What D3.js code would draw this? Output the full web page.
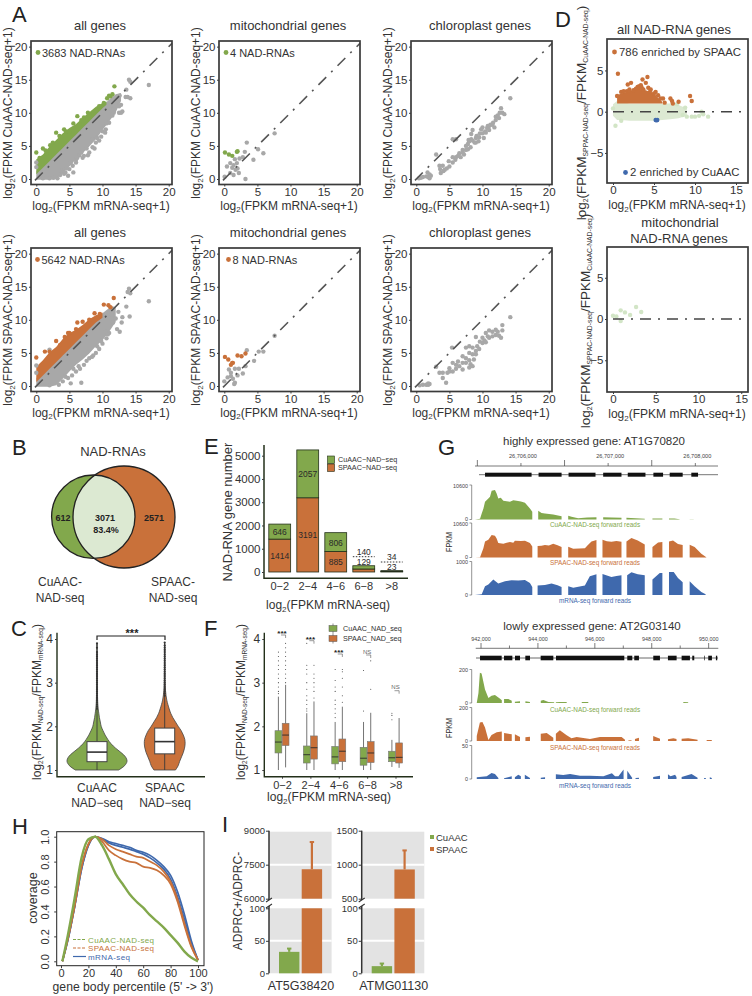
<!DOCTYPE html>
<html>
<head>
<meta charset="utf-8">
<script src="https://cdn.jsdelivr.net/npm/d3@7"></script>
<style>
body { margin: 0; background: #fff; }
text { font-family: "Liberation Sans", Arial, sans-serif; fill: #333; }
</style>
</head>
<body>
<script>
// --> COLORS
var green = '#82a84c', orange = '#c9713a', blue = '#3f69ad', paleGreen = '#dce9d2', paleDot = '#d2e5c6', grey = '#a8a8a8', ink = '#3a3a3a';

// --> PANEL A, DENSE CLOUDS AS [x, low, high]
var cuGreyCloud = [[0,-0.1,1.2],[1,-0.1,2],[2,-0.1,3],[3,0,4],[4,0.9,5],[5,1.9,6],[6,3,7],[7,3.9,8],[8,4.9,9],[9,6,10],[10,7.4,11],[11,8.7,12],[12,10.1,12.8],[12.8,11.8,13]];
var cuGreenCloud = [[0,0.7,3],[1,1.7,3.7],[2,2.7,4.9],[3,3.7,5.9],[4,4.7,6.9],[5,5.7,7.7],[6,6.7,8.3],[7,7.7,9.2],[8,8.7,10.1],[9,9.7,10.9],[10,10.7,11.5],[10.6,11.2,11.7]];
var spGreyCloud = [[0,-0.1,1.2],[1,-0.1,2],[2,-0.1,3],[3,0.1,4],[4,1.1,5],[5,2.2,6],[6,3.2,7],[7,4,8],[8,4.9,9],[9,6,10],[10,6.9,11],[11,8.2,11.8],[12,9.7,12]];
var spOrangeCloud = [[0,0.6,2.9],[1,1.6,3.9],[2,2.6,5.1],[3,3.6,5.9],[4,4.6,7.1],[5,5.6,8],[6,6.6,8.5],[7,7.6,9.2],[8,8.6,10.1],[9,9.6,10.7],[10,10.3,11.1]];

// --> PANEL A, SINGLE POINTS [x, y]
var cuAllGrey = [[14,15],[13.6,13.5],[14.2,14.7],[17,14.2],[13.8,12.4],[14.2,12.2],[13.5,12.4],[12.5,10],[12.8,10],[13,10.2],[12.5,11],[12.8,11.2],[11.7,10],[12,11.6],[11.5,9.6],[11,8.5],[10.5,7.5],[10,7.2],[9.5,5.8],[9,5.5],[8.5,4.8],[8,4],[7.2,3.5],[6.5,3.6],[6,2.5],[5.5,2],[5,1.5],[5.6,1],[3.2,0.1],[4.2,0.8],[4.8,0.5],[1,0.1],[2,0.1],[0,1.8],[0,2.5],[6,2.9],[8.5,6],[7.6,4.6],[9.2,6.2],[10.6,8.4],[3.6,0.6],[4.4,1],[6.8,4],[11.6,10.6],[12.3,12.2],[12.6,12.6],[7,3.2],[7.8,3.6],[8.8,4.6],[9.8,6.4],[10.4,7],[4.6,1.6],[5.2,2.4],[3.8,1.2],[2.6,0.2],[6.2,3.2]];
var cuAllGreen = [[0,4],[0.5,3.2],[1,4.6],[1.5,3.8],[2.1,5.1],[3,7],[3.5,6.5],[4.2,7.5],[4.5,7.2],[5,7.2],[6.2,9.5],[7.2,9.3],[7.8,10],[8,9.6],[9,10.4],[10.7,12.2],[11,12.6],[11.2,12.5],[11.8,14],[11.5,12.8],[2.5,5.5],[1.4,4.3],[6.8,8.9],[5.6,8.4],[9.5,11],[10.2,11.5]];
var cuMitoGrey = [[3.4,5.5],[3.1,4.1],[2.3,3.1],[2.8,3.3],[1.6,3],[0.9,2.4],[0.4,1.9],[1.2,1.7],[1.7,1.4],[2,1.6],[2.2,0.9],[1.4,0.6],[0.05,0.35],[3.2,0],[5.1,4.5],[5.9,3.9],[4.4,2.9],[7.6,6.9],[0.9,0.9],[1.4,2.1],[1.9,2.4]];
var cuMitoGreen = [[0.1,4],[0.7,3.7],[1.2,3.5],[2,4.2],[1.9,4.1]];
var cuChloro = [[0.4,0.1],[0.7,0.2],[1,0.3],[1.5,0.4],[1.7,1],[1.8,0.3],[2,0.7],[2,0.1],[2.2,0.5],[3,3.7],[3.5,2],[3.6,1.5],[3.7,0.9],[4,2],[4.1,1.2],[4.3,1.4],[4.6,1.6],[4.9,2.7],[5,1.9],[5.5,3.3],[5.5,2.5],[5.9,2.9],[6,3.3],[6.3,3.5],[6.5,3.9],[6.7,3.3],[7,4],[7,4.4],[7.2,3.7],[7.5,4.4],[7.5,5],[7.8,5.3],[7.8,4.5],[5.5,6],[6,6],[8,5.7],[8.2,4.8],[8.3,6],[8.5,5.8],[8.8,5.5],[9,5.5],[9,6.2],[9.1,6.5],[9.4,5.7],[9.5,6.3],[9.6,6.9],[9.8,7.5],[10,6.9],[10,7.8],[10.2,6.2],[10.4,7.2],[10.5,7],[10.7,7.7],[10.8,8],[11,7.4],[11,8],[11.2,8.2],[11.5,8.2],[11.6,8.5],[11.8,7.8],[12,8.9],[12,9.4],[12.3,9.6],[12.5,9.2],[12.6,10],[12.8,10.7],[13,10],[13.3,9.8],[14.2,12.2],[8.5,7.4],[8.3,6.8],[7.9,5.9]];
var spAllGrey = [[14,14.7],[13.8,14.2],[14.2,14],[17,12.8],[14.1,10.5],[13.6,12],[12.9,9.6],[12,10.2],[12.2,8.6],[12.6,8.2],[6.8,0.5],[11.6,9.6],[11,8],[10.6,7.2],[10,6.4],[9.5,5.6],[9,5],[8.6,4.6],[8,4.2],[7.2,3.2],[6.6,2.6],[6,2.2],[5.4,1.6],[4.8,1.2],[4,0.7],[3.4,0.2],[5.2,0.4],[2,0.1],[0,3.1],[0,2],[2,5.5],[12.4,11.2],[11.5,11.7],[11,11],[11.4,10.8],[9.2,6],[10.4,8.2],[13,10.4],[7.6,3.8],[8.4,4.4],[6.4,3],[5.6,2.6],[4.4,1.4],[9.8,6.8],[10.8,7.8]];
var spAllOrange = [[0,4.3],[1.3,5.2],[3,6.8],[4.3,7.4],[6.2,9.6],[7,9.7],[8.8,11],[9.6,10.9],[10.2,12.3],[10.9,12.2],[11.7,13.3],[5,8],[2,5.2],[4.8,8],[6,8.6],[8,10],[11.2,11.9],[3.6,6.2]];
var spMitoGrey = [[3.4,5.4],[3.2,3],[2.2,2.6],[1.6,2.6],[0.7,2.5],[1,2],[0.5,1.3],[1,1.5],[1.3,1.1],[2,1.6],[0,0.7],[1.5,0.3],[1.6,0.5],[5.2,5.2],[5.9,5.2],[4.5,3.8],[7.6,7.6],[2.8,1.9]];
var spMitoOrange = [[0.1,4.4],[0.6,4],[1,3.2],[1.2,3.5],[2,4.6],[2.6,4.5],[3.2,4.9],[1.3,3.5]];
var spChloro = [[0.5,0.1],[1,0.2],[1.5,0.2],[1.8,0.2],[2,0.3],[1.8,0.4],[3,2.9],[3.5,2],[4,2],[4,1.2],[4.5,0.5],[4.7,2],[5,2.2],[5,2.7],[5.5,3.5],[5.5,2.2],[6,2.6],[6,3.2],[6.3,3.7],[6.5,3],[7,2.5],[7,3.5],[7,4.5],[7.5,3.5],[7.5,4.2],[7.5,5.8],[5.4,5.8],[8,2.8],[8,3.9],[8,5],[8,6],[8.2,3.3],[8.5,3],[8.5,4.8],[8.5,5.8],[8.7,4],[9,4.8],[9,5.3],[9,7.4],[9.2,6],[9.5,5.6],[9.6,6.7],[10,7.3],[10,6.5],[10.3,6.9],[10.5,8],[10.5,6.6],[10.8,7.5],[11,8.4],[11,7.3],[11.5,8.2],[11.5,7.5],[12,8.5],[12,7.7],[12.3,8.2],[12.5,7.6],[13,8.4],[13,9.2],[12.8,7.3],[14.2,10.4]];

// --> PANEL D
var dPaleCloud = [[0,-0.5,0.9],[0.5,-1,1.3],[1,-1,1.2],[2,-1.1,1],[3,-1.1,1],[4,-1.1,1],[5,-1.1,1],[6,-1,1],[7,-0.9,1],[8,-0.8,0.8],[9,-0.5,0.4]];
var dOrangeCloud = [[0.5,1,2],[1,1,2.2],[2,1,2.5],[3,1,2.8],[4,1,2.6],[5,1,2.2],[5.5,1,1.7],[6,1,1.2]];
var dAllOrange = [[0.6,4.6],[1.8,3.3],[2.2,3.5],[2.5,2.6],[3,3],[3.2,3.1],[3.5,2.9],[3.6,3.9],[3.2,2.9],[3.7,2.7],[4,3.5],[4.2,4.2],[4.3,2.9],[4.5,2.4],[5,2.2],[5.5,2],[6.1,1.6],[6.3,1.1],[7,1.6],[7.2,1.3],[7.3,1],[8,1.2],[9.4,1.9],[9.6,1.3],[1.7,2.5],[0.5,1.9],[1,2.4],[1.3,2.5],[2.8,2.8],[3.4,3.2],[2,2.7],[4.6,2.7],[5.2,2.4],[5.8,1.6]];
var dAllPale = [[0.3,-1.7],[0,0.4],[8.5,-0.4],[9,-0.6],[10,-0.6],[10.5,-0.5],[10.8,0],[11,-0.3],[11.6,-0.6],[9.6,-0.6],[1,-1.1],[8.8,0.5],[7.8,0.9]];
var dAllBlue = [[5.2,-1],[5.4,-1],[5.3,-1.05]];
var dMitoPale = [[0,0.4],[0.4,0.3],[0.9,-0.25],[0.9,1.05],[1.4,0.8],[2,0.5],[2.7,1.45],[3.3,0.85]];

// --> PANEL B
var vennCounts = ['612', '3071', '83.4%', '2571'];

// --> PANEL E
var expressionBins = ['0\u22122', '2\u22124', '4\u22126', '6\u22128', '>8'];
var eSpaacCounts = [1414, 3191, 885, 129, 23];
var eCuaacCounts = [646, 2057, 806, 140, 34];
var eTicks = [0, 1000, 2000, 3000, 4000, 5000];

// --> PANEL C, VIOLIN PROFILES
var violinValues = [1, 1.1, 1.2, 1.3, 1.4, 1.5, 1.6, 1.7, 1.8, 1.9, 2, 2.1, 2.2, 2.3, 2.4, 2.6, 2.8, 3, 3.9];
var violinCu = [0.72, 0.92, 1, 0.95, 0.8, 0.62, 0.47, 0.36, 0.27, 0.2, 0.14, 0.11, 0.08, 0.06, 0.04, 0.02, 0.014, 0.01, 0.005];
var violinSp = [0.36, 0.45, 0.5, 0.56, 0.62, 0.66, 0.68, 0.67, 0.62, 0.55, 0.45, 0.36, 0.27, 0.2, 0.15, 0.07, 0.03, 0.015, 0.005];
var violinBoxCu = [1.19, 1.41, 1.65];
var violinBoxSp = [1.37, 1.65, 1.96];
var violinDotsCu = [2.4,2.45,2.5,2.55,2.6,2.65,2.7,2.75,2.8,2.85,2.9,2.95,3,3.05,3.1,3.15,3.2,3.25,3.3,3.35,3.4,3.45,3.5,3.55,3.6,3.65,3.7,3.8,3.9];
var violinDotsSp = [2.7,2.75,2.8,2.85,2.9,2.95,3,3.05,3.1,3.15,3.2,3.25,3.3,3.35,3.4,3.45,3.5,3.55,3.6,3.65,3.7,3.75,3.8,3.85,3.92];

// --> PANEL F, [q1, median, q3, lower whisker, upper whisker]
var fCuStats = [[1.39,1.64,1.9,1,2.68],[1.16,1.35,1.55,1,2.3],[1.14,1.3,1.54,1,2.1],[1.11,1.27,1.52,1,2.1],[1.19,1.28,1.43,1.07,1.69]];
var fSpStats = [[1.56,1.8,2.07,1.06,2.95],[1.25,1.51,1.78,1,2.57],[1.19,1.43,1.71,1,2.45],[1.17,1.39,1.65,1,2.31],[1.16,1.29,1.62,1.05,2.19]];
var fCuOutliers = [[2.75,2.8,2.9,3,3.1,3.2,3.3,3.4,3.5,3.6,3.7],[2.35,2.4,2.5,2.6,2.7,2.85,3,3.2,3.3,3.4,3.9],[2.2,2.3,2.4,2.5,2.6,2.8,2.9,3.05,3.3],[2.35,3.28],[2.15,2.25,2.3]];
var fSpOutliers = [[3,3.1,3.2,3.3,3.4,3.5,3.6,3.7,3.8,3.9],[2.65,2.8,2.9,3,3.1,3.2,3.4],[2.55,2.7,2.9,3.1,3.25,3.3],[2.85,3.5],[]];
var fSignif = ['***', '***', '***', 'NS', 'NS'];

// --> PANEL G HIGH, [position offset from 26,706,000, FPKM] PER EXON
var highBase = 26706000;
var highLongTicks = [-500, 500, 1500];
var highLabelTicks = [0, 1000, 2000];
var highExons = [[-412,122],[202,466],[546,855],[943,1153],[1225,1428],[1519,1630],[1706,1855],[1954,2031]];
var highGreen = [
  [[-527,0],[-469,200],[-450,1850],[-431,3300],[-412,5460],[-374,6490],[-355,7000],[-336,8860],[-298,9060],[-279,8000],[-260,6490],[-231,6700],[-202,5770],[-164,5600],[-126,5460],[-88,5900],[-50,5770],[0,5500],[46,5150],[103,3400],[130,2370]],
  [[198,2680],[236,2000],[275,1850],[370,1500],[466,1030]],
  [[542,1130],[580,820],[656,410],[760,600],[866,720]],
  [[943,720],[1040,650],[1153,510]],
  [[1210,510],[1420,200]],
  [[1508,310],[1622,310]],
  [[1698,310],[1760,300],[1820,50]],
  [[1935,50],[1981,50]]
];
var highOrange = [
  [[-527,0],[-469,100],[-431,2880],[-412,4940],[-374,5460],[-336,6900],[-298,6700],[-279,5800],[-260,4430],[-202,4220],[-164,4500],[-126,4740],[-88,4500],[-69,5150],[0,5100],[46,5150],[103,4430],[130,3400]],
  [[191,3500],[236,3600],[275,3810],[320,3700],[370,4220],[420,3800],[466,3190]],
  [[542,3300],[600,2680],[670,2800],[733,2880],[771,3900],[809,4940],[866,5360]],
  [[935,5460],[985,5000],[1038,4840],[1095,5100],[1153,4840]],
  [[1210,4940],[1267,5970],[1340,5200],[1420,4020]],
  [[1508,3190],[1573,4640],[1622,4740]],
  [[1698,4940],[1744,5250],[1801,4120],[1855,3810]],
  [[1935,3910],[1992,3190],[2069,1130],[2126,100]]
];
var highBlue = [
  [[-527,0],[-450,20],[-412,260],[-374,310],[-317,460],[-260,340],[-183,410],[-107,440],[-30,430],[46,450],[103,360],[130,240]],
  [[191,280],[275,300],[351,340],[420,290],[466,240]],
  [[542,260],[600,220],[733,280],[790,560],[866,620]],
  [[935,630],[1038,540],[1095,570],[1153,590]],
  [[1218,590],[1267,680],[1340,620],[1420,590]],
  [[1508,460],[1592,660],[1622,660]],
  [[1698,690],[1752,690],[1801,510],[1855,380]],
  [[1935,410],[1992,260],[2069,90],[2118,20]]
];

// --> PANEL G LOW, [position in kb, FPKM] PER EXON
var lowLabelTicks = [942000, 944000, 946000, 948000, 950000];
var lowMinorTicks = [943000, 945000, 947000, 949000];
var lowExons = [[941965,942726],[942808,943101],[943194,943370],[943557,943721],[944096,944541],[944635,947035],[947140,947316],[947386,947550],[948054,948288],[948569,948874],[949050,949342],[949424,949494],[949846,949869],[949986,950115],[950255,950302]];
var lowGreen = [
  [[941.85,0],[941.91,60],[941.96,180],[942.02,176],[942.14,80],[942.26,30],[942.37,44],[942.49,48],[942.67,26],[942.73,16]],
  [[942.81,24],[942.96,24],[943.08,14]],
  [[943.19,8],[943.37,10]],
  [[943.56,10],[943.72,6]],
  [[944.1,14],[944.19,18],[944.37,6],[944.57,4]],
  [[944.63,4],[944.77,6],[945.01,6]],
  [[945.54,6],[945.77,6]],
  [[949.11,6],[949.28,4]]
];
var lowOrange = [
  [[941.85,30],[941.96,110],[942.05,114],[942.14,80],[942.26,6],[942.37,36],[942.55,52],[942.73,56]],
  [[942.81,48],[943.08,40]],
  [[943.19,40],[943.37,24]],
  [[943.56,22],[943.72,26]],
  [[944.1,44],[944.31,48],[944.54,20]],
  [[944.63,44],[944.77,64],[945.01,34],[945.18,16],[945.36,24],[945.83,12],[946.18,24],[946.53,24],[946.94,24],[947.06,8]],
  [[947.18,4],[947.29,4]],
  [[947.41,12],[947.55,20]],
  [[948.05,30],[948.29,14]],
  [[948.57,10],[948.76,16],[948.87,12]],
  [[949.05,14],[949.28,16],[949.61,8]],
  [[949.93,6],[950.11,6]]
];
var lowBlue = [
  [[941.85,2.5],[942.2,4],[942.37,9],[942.49,7.5],[942.61,1.5]],
  [[942.81,1],[943.08,4]],
  [[943.19,2.5],[943.31,6.5],[943.4,4]],
  [[943.54,6.5],[943.72,1.5]],
  [[944.1,2],[944.25,2.5]],
  [[944.63,7],[944.89,6],[945.13,7.5],[945.48,5],[945.83,5],[946.3,4],[946.6,8.5],[946.71,4],[946.83,4],[947.01,14]],
  [[947.14,12.5],[947.31,2]],
  [[947.43,1.5],[947.55,2]],
  [[948.05,3],[948.29,5]],
  [[948.57,7],[948.66,4],[948.82,6.5],[948.87,3]],
  [[949.05,3],[949.4,7.5],[949.61,2]],
  [[949.84,1.5],[949.9,1.5]],
  [[950.04,2.5],[950.11,1.5]]
];

// --> PANEL H, PERCENTILE AND COVERAGE
var hPct = [1, 5, 10, 15, 20, 25, 30, 35, 40, 45, 50, 55, 60, 65, 70, 75, 80, 85, 90, 95, 100];
var hGreen = [0, 0.21, 0.51, 0.83, 0.98, 1, 0.93, 0.82, 0.7, 0.62, 0.54, 0.48, 0.43, 0.37, 0.32, 0.27, 0.21, 0.15, 0.08, 0.03, 0];
var hOrangeTop = [0, 0.18, 0.45, 0.76, 0.94, 1, 0.98, 0.93, 0.9, 0.88, 0.86, 0.84, 0.83, 0.8, 0.77, 0.72, 0.64, 0.5, 0.31, 0.13, 0.01];
var hOrangeLow = [0, 0.18, 0.45, 0.76, 0.94, 1, 0.96, 0.89, 0.85, 0.82, 0.8, 0.79, 0.76, 0.75, 0.73, 0.69, 0.62, 0.48, 0.29, 0.12, 0.01];
var hBlueTop = [0, 0.17, 0.44, 0.74, 0.93, 1, 0.985, 0.96, 0.945, 0.93, 0.915, 0.89, 0.875, 0.85, 0.81, 0.76, 0.69, 0.56, 0.38, 0.17, 0.01];
var hBlueLow = [0, 0.17, 0.44, 0.74, 0.93, 1, 0.98, 0.95, 0.93, 0.915, 0.9, 0.88, 0.86, 0.83, 0.79, 0.74, 0.66, 0.52, 0.34, 0.15, 0.01];

// --> PANEL I
var iGenes = ['AT5G38420', 'ATMG01130'];
var iCuaac = [33, 11];
var iCuaacErr = [38, 15];
var iSpaac = [7300, 930];
var iSpaacErr = [8500, 1210];
var iTopTicks = [[6000, 7500, 9000], [500, 1000, 1500]];
var iLowTicks = [0, 50, 100];

// --> SVG DRAWING AREA
var svg = d3.select('body').append('svg').attr('width', 752).attr('height', 996);

function txt(x, y, s, size, anchor, color, weight) {
    return svg.append('text')
        .attr('x', x).attr('y', y)
        .attr('font-size', size)
        .attr('text-anchor', anchor || 'middle')
        .attr('font-weight', weight || 'normal')
        .style('fill', color || '#333')
        .text(s);
}

// parts are [text, subscript?]
function subText(x, y, parts, size, subSize, rotate) {
    var t = svg.append('text').attr('font-size', size).attr('text-anchor', 'middle');
    if (rotate) {
        t.attr('transform', 'translate(' + x + ',' + y + ') rotate(-90)');
    } else {
        t.attr('x', x).attr('y', y);
    }
    var shift = 0;
    parts.forEach(function (p) {
        var dy = p[1] ? subSize * 0.35 : -shift;
        t.append('tspan').attr('dy', dy).attr('font-size', p[1] ? subSize : size).text(p[0]);
        shift = p[1] ? subSize * 0.35 : 0;
    });
    return t;
}

['A', 'D', 'B', 'E', 'C', 'F', 'G', 'H', 'I'].forEach(function (l, i) {
    var at = [[12, 22], [555, 27], [12, 455], [204, 454], [11, 636], [204, 636], [438, 455], [12, 834], [222, 832]][i];
    txt(at[0], at[1], l, 22, 'start', '#222');
});

function styleAxis(g, size) {
    g.selectAll('path').attr('stroke', 'none');
    g.selectAll('line').attr('stroke', ink);
    g.selectAll('text').attr('font-size', size).attr('font-family', '"Liberation Sans", Arial, sans-serif').style('fill', '#333');
}

function drawCloud(g, x, y, cloud, color) {
    g.append('path').datum(cloud)
        .attr('fill', color)
        .attr('d', d3.area().x(function (d) { return x(d[0]); }).y0(function (d) { return y(d[1]); }).y1(function (d) { return y(d[2]); }));
}

function drawPoints(g, x, y, pts, color, r) {
    g.selectAll(null).data(pts).enter().append('circle')
        .attr('cx', function (d) { return x(d[0]); })
        .attr('cy', function (d) { return y(d[1]); })
        .attr('r', r || 2.2)
        .attr('fill', color);
}

// --> PANEL A PANELS
function scatterPanel(o) {
    var x = d3.scaleLinear().domain([-0.8, 20.5]).range([o.left, o.left + 141]);
    var y = d3.scaleLinear().domain([-0.83, 20.85]).range([o.top + 143.5, o.top]);
    var g = svg.append('g');
    (o.clouds || []).forEach(function (c) { drawCloud(g, x, y, c[0], c[1]); });
    (o.sets || []).forEach(function (s) { drawPoints(g, x, y, s[0], s[1]); });
    g.append('line')
        .attr('x1', x(-0.2)).attr('y1', y(-0.2)).attr('x2', x(20.5)).attr('y2', y(20.5))
        .attr('stroke', '#555').attr('stroke-width', 1.6).attr('stroke-dasharray', '11 7 2 7');
    g.append('rect').attr('x', o.left).attr('y', o.top).attr('width', 141).attr('height', 143.5)
        .attr('fill', 'none').attr('stroke', ink).attr('stroke-width', 1.7);
    var ax = svg.append('g').attr('transform', 'translate(0,' + (o.top + 143.5) + ')')
        .call(d3.axisBottom(x).tickValues([0, 5, 10, 15, 20]).tickSize(2).tickPadding(1).tickSizeOuter(0));
    styleAxis(ax, 11.5);
    var ay = svg.append('g').attr('transform', 'translate(' + o.left + ',0)')
        .call(d3.axisLeft(y).tickValues([0, 5, 10, 15, 20]).tickSize(2).tickPadding(1.5).tickSizeOuter(0));
    styleAxis(ay, 11.5);
    txt(o.left + 69, o.top - 11, o.title, 13);
    subText(o.left + 70, o.top + 168.5, [['log', 0], ['2', 1], ['(FPKM mRNA-seq+1)', 0]], 12, 8);
    subText(o.left - 19, o.top + 72, [['log', 0], ['2', 1], ['(FPKM ' + o.lab + '-NAD-seq+1)', 0]], 12, 8, true);
    if (o.note) {
        g.append('circle').attr('cx', o.left + o.noteDx).attr('cy', o.top + 11.5).attr('r', 2.4).attr('fill', o.noteColor);
        txt(o.left + o.noteDx + 4, o.top + 16, o.note, 11, 'start');
    }
}

scatterPanel({ left: 31, top: 41, title: 'all genes', lab: 'CuAAC', clouds: [[cuGreyCloud, grey], [cuGreenCloud, green]], sets: [[cuAllGrey, grey], [cuAllGreen, green]], note: '3683 NAD-RNAs', noteDx: 7, noteColor: green });
scatterPanel({ left: 219, top: 41, title: 'mitochondrial genes', lab: 'CuAAC', sets: [[cuMitoGrey, grey], [cuMitoGreen, green]], note: '4 NAD-RNAs', noteDx: 7, noteColor: green });
scatterPanel({ left: 411, top: 41, title: 'chloroplast genes', lab: 'CuAAC', sets: [[cuChloro, grey]] });
scatterPanel({ left: 31, top: 248, title: 'all genes', lab: 'SPAAC', clouds: [[spGreyCloud, grey], [spOrangeCloud, orange]], sets: [[spAllGrey, grey], [spAllOrange, orange]], note: '5642 NAD-RNAs', noteDx: 6.5, noteColor: orange });
scatterPanel({ left: 219, top: 248, title: 'mitochondrial genes', lab: 'SPAAC', sets: [[spMitoGrey, grey], [spMitoOrange, orange]], note: '8 NAD-RNAs', noteDx: 9.5, noteColor: orange });
scatterPanel({ left: 411, top: 248, title: 'chloroplast genes', lab: 'SPAAC', sets: [[spChloro, grey]] });

// --> PANEL D PANELS
function maPanel(o) {
    var x = d3.scaleLinear().domain([(o.left - o.x0) / o.kx, (o.left + 141 - o.x0) / o.kx]).range([o.left, o.left + 141]);
    var y = d3.scaleLinear().domain([(o.y0 - o.top - o.h) / o.ky, (o.y0 - o.top) / o.ky]).range([o.top + o.h, o.top]);
    var g = svg.append('g');
    (o.clouds || []).forEach(function (c) { drawCloud(g, x, y, c[0], c[1]); });
    o.sets.forEach(function (s) { drawPoints(g, x, y, s[0], s[1]); });
    g.append('line').attr('x1', x(0)).attr('x2', o.left + 141).attr('y1', y(0)).attr('y2', y(0))
        .attr('stroke', '#444').attr('stroke-width', 1.6).attr('stroke-dasharray', '11 7 2 7');
    g.append('rect').attr('x', o.left).attr('y', o.top).attr('width', 141).attr('height', o.h)
        .attr('fill', 'none').attr('stroke', ink).attr('stroke-width', 1.7);
    styleAxis(svg.append('g').attr('transform', 'translate(0,' + (o.top + o.h) + ')')
        .call(d3.axisBottom(x).tickValues([0, 5, 10, 15]).tickSize(2).tickPadding(1).tickSizeOuter(0)), 11.5);
    styleAxis(svg.append('g').attr('transform', 'translate(' + o.left + ',0)')
        .call(d3.axisLeft(y).tickValues([-5, 0, 5]).tickSize(2).tickPadding(1.5).tickSizeOuter(0)), 11.5);
    subText(o.left + 70, o.top + o.h + 26, [['log', 0], ['2', 1], ['(FPKM mRNA-seq+1)', 0]], 12, 8);
    subText(o.labX, o.top + 74, [['log', 0], ['2', 1], ['(FPKM', 0], ['SPPAC-NAD-seq', 1], ['/FPKM', 0], ['CuAAC-NAD-seq', 1], [')', 0]], 13.5, 6.8, true);
}

maPanel({ left: 607, top: 39, h: 144, x0: 613, kx: 8.2, y0: 111.7, ky: 8.25, labX: 586, clouds: [[dPaleCloud, paleGreen], [dOrangeCloud, orange]], sets: [[dAllPale, paleDot], [dAllOrange, orange], [dAllBlue, blue]] });
maPanel({ left: 607, top: 247, h: 145, x0: 613, kx: 8.55, y0: 319, ky: 8.25, labX: 590, sets: [[dMitoPale, paleDot]] });
txt(674, 34, 'all NAD-RNA genes', 13);
txt(680, 227, 'mitochondrial', 13);
txt(679, 243, 'NAD-RNA genes', 13);
svg.append('circle').attr('cx', 614.5).attr('cy', 52).attr('r', 2.4).attr('fill', orange);
txt(619, 56, '786 enriched by SPAAC', 11.4, 'start');
svg.append('circle').attr('cx', 625.5).attr('cy', 172.5).attr('r', 2.4).attr('fill', blue);
txt(630, 176, '2 enriched by CuAAC', 11.4, 'start');

// --> PANEL B VENN
var cuC = { x: 93.3, y: 516.7, r: 41.7 };
var spC = { x: 124, y: 517, r: 51 };
svg.append('clipPath').attr('id', 'venn-clip').append('circle').attr('cx', cuC.x).attr('cy', cuC.y).attr('r', cuC.r);
svg.append('circle').attr('cx', cuC.x).attr('cy', cuC.y).attr('r', cuC.r).attr('fill', green);
svg.append('circle').attr('cx', spC.x).attr('cy', spC.y).attr('r', spC.r).attr('fill', orange);
svg.append('circle').attr('cx', spC.x).attr('cy', spC.y).attr('r', spC.r).attr('fill', paleGreen).attr('clip-path', 'url(#venn-clip)');
svg.append('circle').attr('cx', cuC.x).attr('cy', cuC.y).attr('r', cuC.r).attr('fill', 'none').attr('stroke', '#222').attr('stroke-width', 1.3);
svg.append('circle').attr('cx', spC.x).attr('cy', spC.y).attr('r', spC.r).attr('fill', 'none').attr('stroke', '#222').attr('stroke-width', 1.3);
txt(63, 521, vennCounts[0], 9, 'middle', '#222', 'bold');
txt(105, 521, vennCounts[1], 9, 'middle', '#222', 'bold');
txt(106, 533, vennCounts[2], 9, 'middle', '#222', 'bold');
txt(154, 521, vennCounts[3], 9, 'middle', '#222', 'bold');
txt(113, 456, 'NAD-RNAs', 13);
txt(60, 586, 'CuAAC-', 12);
txt(60, 602, 'NAD-seq', 12);
txt(173, 586, 'SPAAC-', 12);
txt(173, 602, 'NAD-seq', 12);

// --> PANEL E STACKED BARS
var ex = d3.scaleBand().domain(expressionBins).range([266, 405.5]).paddingInner(0.22).paddingOuter(0.1);
var ey = d3.scaleLinear().domain([0, 5000]).range([572, 455.7]);
expressionBins.forEach(function (b, i) {
    var top = eSpaacCounts[i] + eCuaacCounts[i];
    svg.append('rect').attr('x', ex(b)).attr('width', ex.bandwidth()).attr('y', ey(eSpaacCounts[i])).attr('height', ey(0) - ey(eSpaacCounts[i]))
        .attr('fill', i === 4 ? '#222' : orange).attr('stroke', '#23301a').attr('stroke-width', 0.8);
    svg.append('rect').attr('x', ex(b)).attr('width', ex.bandwidth()).attr('y', ey(top)).attr('height', ey(eSpaacCounts[i]) - ey(top))
        .attr('fill', i === 4 ? '#222' : green).attr('stroke', '#23301a').attr('stroke-width', 0.8);
    var cx = ex(b) + ex.bandwidth() / 2;
    if (i < 3) {
        txt(cx, ey(eSpaacCounts[i] / 2) + 3.5, eSpaacCounts[i], 8.5, 'middle', '#2a2a2a');
        txt(cx, ey(eSpaacCounts[i] + eCuaacCounts[i] / 2) + 3.5, eCuaacCounts[i], 8.5, 'middle', '#2a2a2a');
    } else {
        var dashY = i === 3 ? 556.7 : 562;
        svg.append('line').attr('x1', ex(b)).attr('x2', ex(b) + ex.bandwidth()).attr('y1', dashY).attr('y2', dashY)
            .attr('stroke', '#333').attr('stroke-dasharray', '1.5 1.5');
        txt(cx, dashY - 2, eCuaacCounts[i], 8.5, 'middle', '#2a2a2a');
        txt(cx, dashY + 8, eSpaacCounts[i], 8.5, 'middle', '#2a2a2a');
    }
});
svg.append('path').attr('d', 'M264,445V578.3H408').attr('fill', 'none').attr('stroke', '#23301a').attr('stroke-width', 1.5);
styleAxis(svg.append('g').attr('transform', 'translate(264,0)').call(d3.axisLeft(ey).tickValues(eTicks).tickSize(2).tickPadding(1.5).tickFormat(d3.format('d'))), 11.5);
styleAxis(svg.append('g').attr('transform', 'translate(0,578.3)').call(d3.axisBottom(ex).tickSize(0).tickPadding(4)), 11);
subText(328, 609, [['log', 0], ['2', 1], ['(FPKM mRNA-seq)', 0]], 12, 8);
txt(232, 512, 'NAD-RNA gene number', 13).attr('transform', 'rotate(-90 232 512)');
[['CuAAC\u2212NAD\u2212seq', green, 456], ['SPAAC\u2212NAD\u2212seq', orange, 464]].forEach(function (row) {
    svg.append('rect').attr('x', 327.5).attr('y', row[2]).attr('width', 7).attr('height', 7.5).attr('fill', row[1]).attr('stroke', '#23301a').attr('stroke-width', 0.6);
    txt(338, row[2] + 6, row[0], 7.2, 'start');
});

// --> PANEL C VIOLINS
var cy = d3.scaleLinear().domain([1, 4]).range([770, 639]);
var cw = d3.scaleLinear().domain([0, 1]).range([0, 30]);
function violin(cx, dens, box, dots, color) {
    var pts = violinValues.map(function (v, i) { return [v, dens[i]]; });
    svg.append('path').datum(pts)
        .attr('fill', color).attr('stroke', '#444').attr('stroke-width', 0.8)
        .attr('d', d3.area().curve(d3.curveCatmullRom)
            .y(function (d) { return cy(d[0]); })
            .x0(function (d) { return cx - cw(d[1]); })
            .x1(function (d) { return cx + cw(d[1]); }));
    svg.append('line').attr('x1', cx).attr('x2', cx).attr('y1', cy(1)).attr('y2', cy(d3.max(dots)))
        .attr('stroke', '#3a3a3a').attr('stroke-width', 0.9);
    svg.selectAll(null).data(dots).enter().append('circle')
        .attr('cx', cx).attr('cy', function (d) { return cy(d); }).attr('r', 1.1).attr('fill', '#333');
    svg.append('rect').attr('x', cx - 10).attr('width', 20).attr('y', cy(box[2])).attr('height', cy(box[0]) - cy(box[2]))
        .attr('fill', '#fff').attr('stroke', '#444').attr('stroke-width', 1);
    svg.append('line').attr('x1', cx - 10).attr('x2', cx + 10).attr('y1', cy(box[1])).attr('y2', cy(box[1]))
        .attr('stroke', '#333').attr('stroke-width', 1.6);
}
violin(97, violinCu, violinBoxCu, violinDotsCu, green);
violin(164.7, violinSp, violinBoxSp, violinDotsSp, orange);
svg.append('path').attr('d', 'M57,632.7V776.7H205').attr('fill', 'none').attr('stroke', '#23301a').attr('stroke-width', 1.4);
styleAxis(svg.append('g').attr('transform', 'translate(57,0)').call(d3.axisLeft(cy).tickValues([1, 2, 3, 4]).tickSize(2).tickPadding(2).tickFormat(d3.format('d'))), 12);
svg.append('path').attr('d', 'M97,640V636H165V640').attr('fill', 'none').attr('stroke', '#222').attr('stroke-width', 1.2);
txt(132, 637, '***', 11, 'middle', '#222', 'bold');
txt(97, 792, 'CuAAC', 12);
txt(97, 807, 'NAD\u2212seq', 12);
txt(165, 792, 'SPAAC', 12);
txt(165, 807, 'NAD\u2212seq', 12);
subText(41, 702, [['log', 0], ['2', 1], ['(FPKM', 0], ['NAD-seq', 1], ['/FPKM', 0], ['mRNA-seq', 1], [')', 0]], 12, 6.5, true);

// --> PANEL F BOXES
var fy = d3.scaleLinear().domain([1, 4]).range([770, 639]);
var fx = d3.scalePoint().domain(expressionBins).range([282, 395.5]);
function boxPlot(cx, s, outliers, color) {
    svg.append('line').attr('x1', cx).attr('x2', cx).attr('y1', fy(s[3])).attr('y2', fy(s[4])).attr('stroke', '#3a3a3a').attr('stroke-width', 0.7);
    svg.selectAll(null).data(outliers).enter().append('circle')
        .attr('cx', cx).attr('cy', function (d) { return fy(d); }).attr('r', 0.55).attr('fill', '#444');
    svg.append('rect').attr('x', cx - 3.4).attr('width', 6.8).attr('y', fy(s[2])).attr('height', fy(s[0]) - fy(s[2]))
        .attr('fill', color).attr('stroke', '#777').attr('stroke-width', 0.6);
    svg.append('line').attr('x1', cx - 3.4).attr('x2', cx + 3.4).attr('y1', fy(s[1])).attr('y2', fy(s[1])).attr('stroke', '#2a2a2a').attr('stroke-width', 0.9);
}
var signifY = [635, 640.7, 654, 655, 690.7];
expressionBins.forEach(function (b, i) {
    var c = fx(b);
    boxPlot(c - 3.6, fCuStats[i], fCuOutliers[i], green);
    boxPlot(c + 3.6, fSpStats[i], fSpOutliers[i], orange);
    svg.append('path').attr('d', 'M' + (c - 1) + ',' + signifY[i] + 'H' + (c + 3.6) + 'V' + (signifY[i] + 3)).attr('fill', 'none').attr('stroke', '#555').attr('stroke-width', 0.6);
    if (fSignif[i] === 'NS') {
        txt(c, signifY[i] - 1.5, 'NS', 6, 'middle', '#666');
    } else {
        txt(c, signifY[i] + 1, '***', 8, 'middle', '#222', 'bold');
    }
});
svg.append('path').attr('d', 'M264.3,632.7V776.7H413').attr('fill', 'none').attr('stroke', '#23301a').attr('stroke-width', 1.4);
styleAxis(svg.append('g').attr('transform', 'translate(264.3,0)').call(d3.axisLeft(fy).tickValues([1, 2, 3, 4]).tickSize(2).tickPadding(2).tickFormat(d3.format('d'))), 12);
styleAxis(svg.append('g').attr('transform', 'translate(0,776.7)').call(d3.axisBottom(fx).tickSize(2).tickPadding(3)), 11);
subText(329, 801, [['log', 0], ['2', 1], ['(FPKM mRNA-seq)', 0]], 12, 8);
subText(245, 702, [['log', 0], ['2', 1], ['(FPKM', 0], ['NAD-seq', 1], ['/FPKM', 0], ['mRNA-seq', 1], [')', 0]], 12, 6.5, true);
[['CuAAC_NAD_seq', green, 628.5], ['SPAAC_NAD_seq', orange, 638.5]].forEach(function (row) {
    svg.append('line').attr('x1', 333).attr('x2', 333).attr('y1', row[2] - 5).attr('y2', row[2] + 5).attr('stroke', '#444').attr('stroke-width', 0.6);
    svg.append('rect').attr('x', 329).attr('y', row[2] - 3).attr('width', 8).attr('height', 6).attr('fill', row[1]).attr('stroke', '#555').attr('stroke-width', 0.5);
    txt(343, row[2] + 2.5, row[0], 7.2, 'start');
});

// --> PANEL G TRACKS
function trackArea(x, segs, y, color) {
    var gen = d3.area().x(function (d) { return x(d[0]); }).y0(y.range()[0]).y1(function (d) { return y(d[1]); });
    segs.forEach(function (s) {
        svg.append('path').datum(s).attr('fill', color).attr('d', gen);
    });
}
function trackAxis(baseY, topY, top, label, labelY, color) {
    svg.append('path').attr('d', 'M469.5,' + topY + 'H471.7V' + baseY + 'H469.5').attr('fill', 'none').attr('stroke', '#666').attr('stroke-width', 0.7);
    txt(468, topY + 2.5, top, 5.4, 'end', '#444');
    txt(468, baseY + 1.5, '0', 5.4, 'end', '#444');
    txt(595, labelY, label, 6.4, 'middle', color);
}

var hx = d3.scaleLinear().domain([-527, 2260]).range([475, 718]);
txt(594, 445, 'highly expressed gene: AT1G70820', 11.5);
svg.append('line').attr('x1', 475).attr('x2', 718).attr('y1', 466).attr('y2', 466).attr('stroke', '#555').attr('stroke-width', 0.8);
highLongTicks.forEach(function (t) {
    svg.append('line').attr('x1', hx(t)).attr('x2', hx(t)).attr('y1', 460).attr('y2', 466).attr('stroke', '#444').attr('stroke-width', 0.7);
});
highLabelTicks.forEach(function (t) {
    svg.append('line').attr('x1', hx(t)).attr('x2', hx(t)).attr('y1', 463).attr('y2', 466).attr('stroke', '#444').attr('stroke-width', 0.7);
    txt(hx(t) + 2, 458, d3.format(',')(highBase + t), 5.6, 'middle', '#444');
});
svg.append('line').attr('x1', hx(-481)).attr('x2', 718).attr('y1', 474.7).attr('y2', 474.7).attr('stroke', '#777').attr('stroke-width', 1);
highExons.forEach(function (e) {
    svg.append('rect').attr('x', hx(e[0])).attr('width', hx(e[1]) - hx(e[0])).attr('y', 472.7).attr('height', 4).attr('fill', '#111');
});
trackArea(hx, highGreen, d3.scaleLinear().domain([0, 10600]).range([519.5, 485]), green);
trackArea(hx, highOrange, d3.scaleLinear().domain([0, 10600]).range([557.5, 523]), orange);
trackArea(hx, highBlue, d3.scaleLinear().domain([0, 1000]).range([595, 561.5]), blue);
trackAxis(519.5, 485, '10600', 'CuAAC-NAD-seq forward reads', 527, green);
trackAxis(557.5, 523, '10600', 'SPAAC-NAD-seq forward reads', 565, orange);
trackAxis(595, 561.5, '1000', 'mRNA-seq forward reads', 603, blue);
txt(451.5, 542, 'FPKM', 9).attr('transform', 'rotate(-90 451.5 542)').attr('textLength', 20).attr('lengthAdjust', 'spacingAndGlyphs');

var lx = d3.scaleLinear().domain([941813, 950339]).range([475.7, 718.3]);
var lkb = d3.scaleLinear().domain([941.813, 950.339]).range([475.7, 718.3]);
txt(592, 630, 'lowly expressed gene: AT2G03140', 11.5);
svg.append('line').attr('x1', 475.7).attr('x2', 718.3).attr('y1', 648.3).attr('y2', 648.3).attr('stroke', '#555').attr('stroke-width', 0.8);
lowLabelTicks.forEach(function (t) {
    svg.append('line').attr('x1', lx(t)).attr('x2', lx(t)).attr('y1', 643).attr('y2', 648.3).attr('stroke', '#444').attr('stroke-width', 0.7);
    txt(lx(t), 641, d3.format(',')(t), 5.4, 'middle', '#444');
});
lowMinorTicks.forEach(function (t) {
    svg.append('line').attr('x1', lx(t)).attr('x2', lx(t)).attr('y1', 645.5).attr('y2', 648.3).attr('stroke', '#444').attr('stroke-width', 0.7);
});
svg.append('line').attr('x1', 476).attr('x2', 718).attr('y1', 658).attr('y2', 658).attr('stroke', '#444').attr('stroke-width', 0.8);
lowExons.forEach(function (e) {
    svg.append('rect').attr('x', lx(e[0])).attr('width', lx(e[1]) - lx(e[0])).attr('y', 655.7).attr('height', 4.6).attr('fill', '#111');
});
trackArea(lkb, lowGreen, d3.scaleLinear().domain([0, 200]).range([703, 669.5]), green);
trackArea(lkb, lowOrange, d3.scaleLinear().domain([0, 200]).range([741, 707.5]), orange);
trackArea(lkb, lowBlue, d3.scaleLinear().domain([0, 50]).range([779, 745.5]), blue);
trackAxis(703, 669.5, '200', 'CuAAC-NAD-seq forward reads', 712, green);
trackAxis(741, 707.5, '200', 'SPAAC-NAD-seq forward reads', 750, orange);
trackAxis(779, 745.5, '50', 'mRNA-seq forward reads', 788, blue);
txt(451.5, 728, 'FPKM', 9).attr('transform', 'rotate(-90 451.5 728)').attr('textLength', 20).attr('lengthAdjust', 'spacingAndGlyphs');

// --> PANEL H COVERAGE
var hcx = d3.scaleLinear().domain([0, 100]).range([61, 198]);
var hcy = d3.scaleLinear().domain([0, 1]).range([961.3, 836.7]);
var hLine = d3.line().curve(d3.curveMonotoneX).x(function (d) { return hcx(d[0]); }).y(function (d) { return hcy(d[1]); });
[[hBlueTop, blue], [hBlueLow, blue], [hOrangeTop, orange], [hOrangeLow, orange], [hGreen, green]].forEach(function (c) {
    svg.append('path').datum(hPct.map(function (p, i) { return [p, c[0][i]]; }))
        .attr('fill', 'none').attr('stroke', c[1]).attr('stroke-width', c[0] === hGreen ? 2.4 : 1.7).attr('d', hLine);
});
svg.append('rect').attr('x', 56.7).attr('y', 831.7).attr('width', 147.3).attr('height', 134).attr('fill', 'none').attr('stroke', '#222').attr('stroke-width', 1);
styleAxis(svg.append('g').attr('transform', 'translate(0,965.7)').call(d3.axisBottom(hcx).tickValues([0, 20, 40, 60, 80, 100]).tickSize(2.5).tickPadding(1.5)), 11);
var hAxisY = svg.append('g').attr('transform', 'translate(56.7,0)').call(d3.axisLeft(hcy).tickValues([0, 0.2, 0.4, 0.6, 0.8, 1]).tickSize(2.5).tickFormat(d3.format('.1f')));
styleAxis(hAxisY, 11);
hAxisY.selectAll('text').attr('text-anchor', 'middle').attr('dy', 0).attr('transform', 'translate(-3.5,0) rotate(-90)').attr('x', 0).attr('y', -4);
txt(133, 991, "gene body percentile (5' -> 3')", 12.2);
txt(37, 898, 'coverage', 12.5).attr('transform', 'rotate(-90 37 898)');
[['CuAAC-NAD-seq', green, 939.5, '3 1.5'], ['SPAAC-NAD-seq', orange, 948, '3 1.5'], ['mRNA-seq', blue, 956.5, null]].forEach(function (row) {
    svg.append('line').attr('x1', 73).attr('x2', 86).attr('y1', row[2]).attr('y2', row[2]).attr('stroke', row[1]).attr('stroke-width', 1.2).attr('stroke-dasharray', row[3]);
    txt(88, row[2] + 3, row[0], 8, 'start', row[1]).attr('textLength', row[0] === 'mRNA-seq' ? 42 : 66);
});

// --> PANEL I BROKEN BARS
function brokenBars(i, axisX) {
    var top = d3.scaleLinear().domain([iTopTicks[i][0], iTopTicks[i][2]]).range([898.7, 830.7]);
    var low = d3.scaleLinear().domain([0, 100]).range([973.3, 908.3]);
    var w = 62.6, col = 20.4;
    svg.append('rect').attr('x', axisX).attr('y', 831.7).attr('width', w).attr('height', 67).attr('fill', '#e3e3e3');
    svg.append('rect').attr('x', axisX).attr('y', 908.3).attr('width', w).attr('height', 65).attr('fill', '#e3e3e3');
    svg.append('line').attr('x1', axisX).attr('x2', axisX + w).attr('y1', top(iTopTicks[i][1])).attr('y2', top(iTopTicks[i][1])).attr('stroke', '#fff').attr('stroke-width', 2);
    svg.append('line').attr('x1', axisX).attr('x2', axisX + w).attr('y1', low(50)).attr('y2', low(50)).attr('stroke', '#fff').attr('stroke-width', 2);
    var gx = axisX + 10, ox = axisX + 32.7;
    svg.append('rect').attr('x', gx).attr('width', col).attr('y', low(iCuaac[i])).attr('height', low(0) - low(iCuaac[i])).attr('fill', green);
    svg.append('rect').attr('x', ox).attr('width', col).attr('y', 908.3).attr('height', 65).attr('fill', orange);
    svg.append('rect').attr('x', ox).attr('width', col).attr('y', top(iSpaac[i])).attr('height', 898.7 - top(iSpaac[i])).attr('fill', orange);
    svg.append('line').attr('x1', gx + col / 2).attr('x2', gx + col / 2).attr('y1', low(iCuaac[i])).attr('y2', low(iCuaacErr[i])).attr('stroke', green).attr('stroke-width', 2.2);
    svg.append('line').attr('x1', gx + col / 2 - 2.2).attr('x2', gx + col / 2 + 2.2).attr('y1', low(iCuaacErr[i])).attr('y2', low(iCuaacErr[i])).attr('stroke', green).attr('stroke-width', 2);
    svg.append('line').attr('x1', ox + col / 2).attr('x2', ox + col / 2).attr('y1', top(iSpaac[i])).attr('y2', top(iSpaacErr[i])).attr('stroke', orange).attr('stroke-width', 2.2);
    svg.append('line').attr('x1', ox + col / 2 - 2.2).attr('x2', ox + col / 2 + 2.2).attr('y1', top(iSpaacErr[i])).attr('y2', top(iSpaacErr[i])).attr('stroke', orange).attr('stroke-width', 2);
    var a1 = svg.append('g').attr('transform', 'translate(' + axisX + ',0)').call(d3.axisLeft(top).tickValues(iTopTicks[i]).tickSize(3).tickPadding(1).tickSizeOuter(0).tickFormat(d3.format('d')));
    var a2 = svg.append('g').attr('transform', 'translate(' + axisX + ',0)').call(d3.axisLeft(low).tickValues(iLowTicks).tickSize(3).tickPadding(1).tickSizeOuter(0));
    styleAxis(a1, 9.5);
    styleAxis(a2, 9.5);
    svg.append('line').attr('x1', axisX).attr('x2', axisX).attr('y1', 830.7).attr('y2', 900).attr('stroke', '#333').attr('stroke-width', 1.5);
    svg.append('line').attr('x1', axisX).attr('x2', axisX).attr('y1', 906).attr('y2', 973.3).attr('stroke', '#333').attr('stroke-width', 1.5);
    svg.append('path').attr('d', 'M' + (axisX - 3) + ',902L' + (axisX + 3) + ',898M' + (axisX - 3) + ',908L' + (axisX + 3) + ',904').attr('stroke', '#333').attr('stroke-width', 1.1);
    txt(axisX + 32, 990, iGenes[i], 12.5);
}
brokenBars(0, 269);
brokenBars(1, 361.7);
txt(242, 901, 'ADPRC+/ADPRC-', 12).attr('transform', 'rotate(-90 242 901)');
[['CuAAC', green, 837], ['SPAAC', orange, 849]].forEach(function (row) {
    svg.append('rect').attr('x', 430).attr('y', row[2] - 2).attr('width', 4).attr('height', 4).attr('fill', row[1]);
    txt(436, row[2] + 3.5, row[0], 9.5, 'start');
});
</script>
</body>
</html>
